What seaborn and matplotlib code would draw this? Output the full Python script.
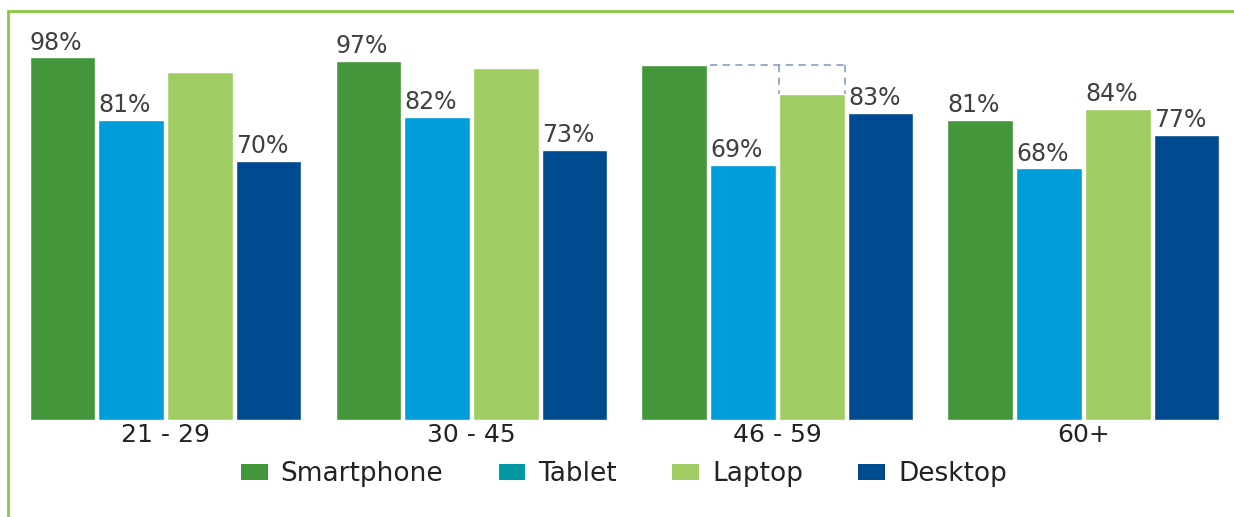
import pandas as pd
import seaborn as sns
import matplotlib.pyplot as plt
from matplotlib.patches import Patch, Rectangle

# Device usage by age group (%)
groups = ["21 - 29", "30 - 45", "46 - 59", "60+"]
devices = ["Smartphone", "Tablet", "Laptop", "Desktop"]
smartphone = [98, 97, 96, 81]
tablet = [81, 82, 69, 68]
laptop = [94, 95, 88, 84]
desktop = [70, 73, 83, 77]

# labels shown on the chart (some bars carry none)
smartphone_labels = ["98%", "97%", "", "81%"]
tablet_labels = ["81%", "82%", "69%", "68%"]
laptop_labels = ["", "", "", "84%"]
desktop_labels = ["70%", "73%", "83%", "77%"]

bar_colors = ["#43963a", "#009ddd", "#a0cd63", "#004a8f"]
legend_colors = ["#43963a", "#00999f", "#a0cd63", "#004a8f"]

values = [smartphone, tablet, laptop, desktop]
labels = [smartphone_labels, tablet_labels, laptop_labels, desktop_labels]

rows = []
for dev, vals in zip(devices, values):
    for g, v in zip(groups, vals):
        rows.append({"group": g, "device": dev, "value": v})
df = pd.DataFrame(rows)

sns.set_style("white")
plt.rcParams["font.family"] = ["DejaVu Sans"]

fig = plt.figure(figsize=(12.34, 5.17), dpi=100)
ax = fig.add_axes([20 / 1234, 97 / 517, 1210 / 1234, 400 / 517])

sns.barplot(
    data=df, x="group", y="value", hue="device",
    order=groups, hue_order=devices, palette=bar_colors,
    width=0.9, gap=0.05, saturation=1, legend=False, ax=ax,
)

ax.set_xlim(-0.4755, 3.479)
ax.set_ylim(0, 108.1)
sns.despine(ax=ax, left=True, bottom=True)
ax.set_yticks([])
ax.set_xlabel("")
ax.set_ylabel("")
ax.tick_params(axis="x", length=0, pad=2, labelsize=18, labelcolor="#222222")

# value labels, left aligned on each bar
for cont, labs in zip(ax.containers, labels):
    for bar, lab in zip(cont, labs):
        if lab:
            ax.annotate(lab, (bar.get_x(), bar.get_height()),
                        xytext=(0, 2), textcoords="offset points",
                        ha="left", va="bottom", fontsize=17, color="#404040")

# dashed bracket over the 46-59 tablet/laptop bars
tab_bar = ax.containers[1][2]
lap_bar = ax.containers[2][2]
top = smartphone[2]
x0 = tab_bar.get_x()
x1 = lap_bar.get_x()
x2 = lap_bar.get_x() + lap_bar.get_width()
dash = dict(color="#8fa8c8", lw=1.3, ls=(0, (4, 3)))
ax.plot([x0, x2], [top, top], **dash)
ax.plot([x1, x1], [top, laptop[2]], **dash)
ax.plot([x2, x2], [top, laptop[2]], **dash)

handles = [Patch(facecolor=c, edgecolor="none") for c in legend_colors]
fig.legend(handles, devices, loc="center", bbox_to_anchor=(624 / 1234, 1 - 474 / 517),
           ncol=4, frameon=False, fontsize=19, handlelength=1.0, handleheight=0.57,
           handletextpad=0.5, columnspacing=2.1, labelcolor="#222222")

# green frame
fig.add_artist(Rectangle((8 / 1234, -0.1), 1.5, (517 - 11) / 517 + 0.1,
                         transform=fig.transFigure, fill=False,
                         edgecolor="#8cc63f", lw=2))

fig.savefig("out.png", dpi=100)
